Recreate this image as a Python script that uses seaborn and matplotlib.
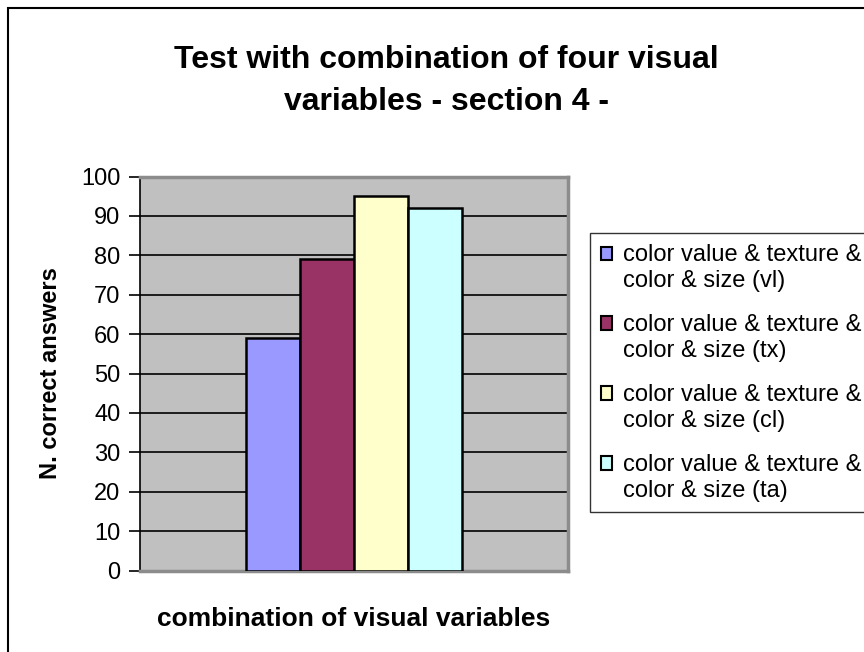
import matplotlib
matplotlib.use("Agg")
import matplotlib.pyplot as plt
from matplotlib.patches import Rectangle, Patch
from matplotlib.legend_handler import HandlerPatch
import pandas as pd
import seaborn as sns

# Data
group = ["combination of visual variables"]
series = [
    "color value & texture &\ncolor & size (vl)",
    "color value & texture &\ncolor & size (tx)",
    "color value & texture &\ncolor & size (cl)",
    "color value & texture &\ncolor & size (ta)",
]
values = [59, 79, 95, 92]
colors = ["#9999FF", "#993366", "#FFFFCC", "#CCFFFF"]
yticks = [0, 10, 20, 30, 40, 50, 60, 70, 80, 90, 100]

df = pd.DataFrame({
    "group": group * len(series),
    "series": series,
    "value": values,
})

sns.set_style("white")
plt.rcParams["font.family"] = ["Liberation Sans", "DejaVu Sans"]
plt.rcParams["text.color"] = "black"
plt.rcParams["axes.labelcolor"] = "black"
plt.rcParams["xtick.color"] = "black"
plt.rcParams["ytick.color"] = "black"

W, H = 864, 652
fig = plt.figure(figsize=(W / 100, H / 100), dpi=100)
ax = fig.add_axes([140 / W, 1 - 570.5 / H, (568 - 140) / W, (570.5 - 176.5) / H])
ax.set_facecolor("#C0C0C0")

sns.barplot(data=df, x="group", y="value", hue="series", palette=colors,
            width=0.505, gap=0, edgecolor="black", linewidth=1.8,
            saturation=1, ax=ax, legend=False, zorder=3)

ax.set_ylim(0, 100)
ax.set_xlim(-0.5, 0.5)
ax.set_yticks(yticks)
ax.set_yticklabels([str(t) for t in yticks], fontsize=17, color="black")
ax.set_xticks([])
ax.yaxis.grid(True, color="black", linewidth=1.2, zorder=1)
ax.set_axisbelow(True)
ax.tick_params(axis="y", direction="out", length=8, width=1.2, color="black", pad=6, left=True)

for side in ["top", "right", "bottom"]:
    ax.spines[side].set_color("#8C8C8C")
    ax.spines[side].set_linewidth(2.5)
ax.spines["left"].set_color("black")
ax.spines["left"].set_linewidth(1.2)

ax.set_xlabel("combination of visual variables", fontsize=19, fontweight="bold",
              labelpad=26, color="black")
ax.set_ylabel("N. correct answers", fontsize=17, fontweight="bold", labelpad=14, color="black")

fig.text(446 / W, 1 - 81 / H, "Test with combination of four visual\nvariables - section 4 -",
         ha="center", va="center", fontsize=23, fontweight="bold", linespacing=1.5,
         color="black")


# Legend swatch sits beside the first line of each two-line label
def top_swatch(legend, orig_handle, xdescent, ydescent, width, height, fontsize):
    shift = 0.62 * fontsize
    return Rectangle((-xdescent, -ydescent + shift), width, height)


handles = [Patch(facecolor=c, edgecolor="black", linewidth=1.5) for c in colors]
leg = fig.legend(handles, series, loc="upper left",
                 bbox_to_anchor=(590 / W, 1 - 233 / H), bbox_transform=fig.transFigure,
                 borderaxespad=0, fontsize=17, frameon=True, fancybox=False,
                 handlelength=0.5, handleheight=0.5, handletextpad=0.45,
                 labelspacing=0.92, borderpad=0.45, labelcolor="black",
                 handler_map={Patch: HandlerPatch(patch_func=top_swatch)})
leg.get_frame().set_edgecolor("black")
leg.get_frame().set_linewidth(1.0)
for t in leg.get_texts():
    t.set_linespacing(1.25)

# Outer chart border
fig.patches.append(Rectangle((8 / W, -0.1), 1.2, 1 - 8 / H + 0.1, transform=fig.transFigure,
                             fill=False, edgecolor="black", linewidth=1.5, figure=fig))

fig.savefig("out.png", dpi=100)
